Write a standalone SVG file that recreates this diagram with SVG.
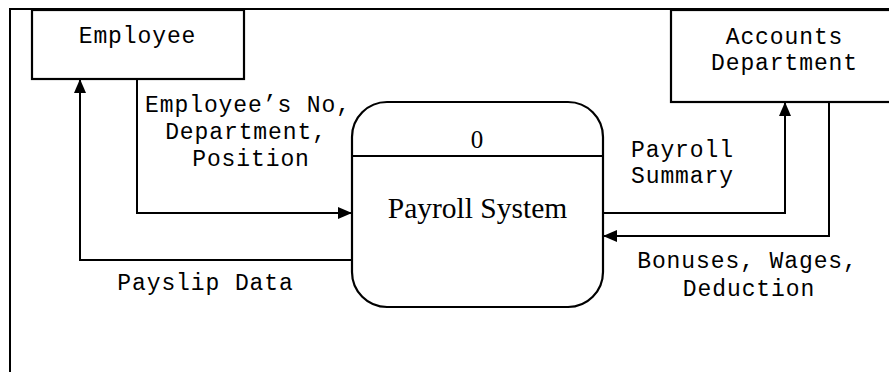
<svg xmlns="http://www.w3.org/2000/svg" width="889" height="372" viewBox="0 0 889 372">
<defs>
<style>
.box{fill:#fff;stroke:#000;stroke-width:2.2}
.line{fill:none;stroke:#000;stroke-width:2}
.mono{font-family:"Liberation Mono","Courier New",monospace;font-size:23px;letter-spacing:0.9px;fill:#000}
.serif{font-family:"Liberation Serif","Times New Roman",serif;fill:#000}
</style>
<marker id="arr" markerUnits="userSpaceOnUse" markerWidth="14" markerHeight="12" refX="14" refY="6" orient="auto">
<path d="M0,0 L14,6 L0,12 z" fill="#000"/>
</marker>
</defs>
<rect width="889" height="372" fill="#fff"/>
<g id="frame">
<path class="line" d="M10,372 V9 H889"/>
</g>
<g id="connectors">
<path class="line" d="M137,79 V213 H352" marker-end="url(#arr)"/>
<path class="line" d="M352,260 H80 V79" marker-end="url(#arr)"/>
<path class="line" d="M603,213 H785 V102" marker-end="url(#arr)"/>
<path class="line" d="M829,102 V236 H603" marker-end="url(#arr)"/>
</g>
<g id="employee">
<rect class="box" x="32" y="10" width="212" height="69"/>
<text class="mono" x="137.5" y="43" text-anchor="middle">Employee</text>
</g>
<g id="accounts">
<rect class="box" x="671" y="10" width="230" height="92"/>
<text class="mono" x="784.5" y="44" text-anchor="middle">Accounts</text>
<text class="mono" x="784.5" y="70" text-anchor="middle">Department</text>
</g>
<g id="process">
<rect class="box" x="352" y="102" width="251" height="205" rx="35" ry="35"/>
<line class="line" x1="352" y1="156" x2="603" y2="156"/>
<text class="serif" x="477" y="148" font-size="25" text-anchor="middle">0</text>
<text class="serif" x="477.5" y="218" font-size="29.5" text-anchor="middle">Payroll System</text>
</g>
<g id="labels">
<text class="mono" x="248" y="112" text-anchor="middle">Employee’s No,</text>
<text class="mono" x="246" y="139" text-anchor="middle">Department,</text>
<text class="mono" x="251" y="166" text-anchor="middle">Position</text>
<text class="mono" x="631" y="157">Payroll</text>
<text class="mono" x="631" y="183">Summary</text>
<text class="mono" x="747.5" y="268" text-anchor="middle">Bonuses, Wages,</text>
<text class="mono" x="749" y="296" text-anchor="middle">Deduction</text>
<text class="mono" x="205.5" y="290" text-anchor="middle">Payslip Data</text>
</g>
</svg>
